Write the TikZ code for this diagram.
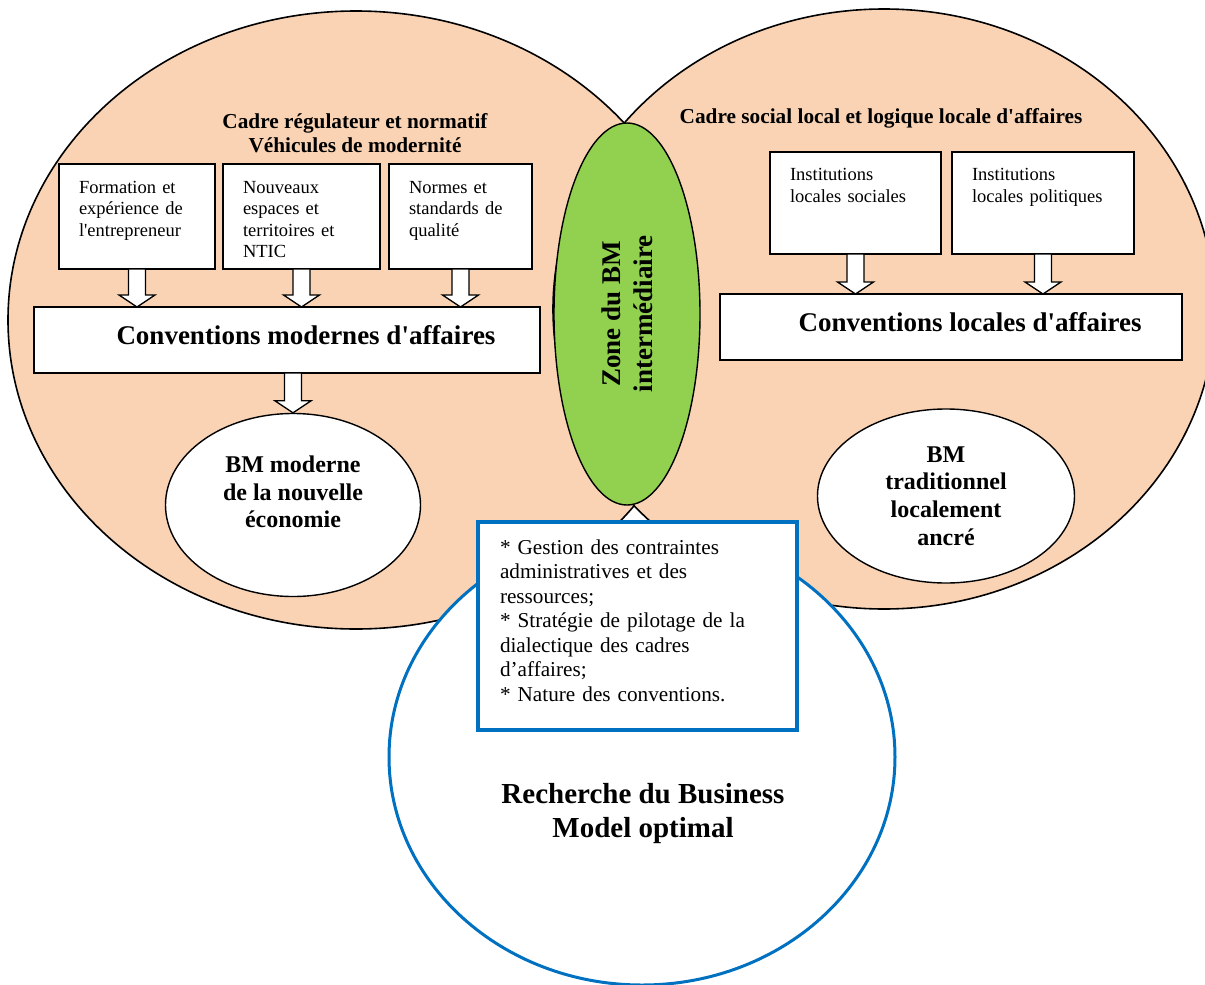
\documentclass[tikz,border=0pt]{standalone}
\usepackage{fontspec}
\setmainfont{Liberation Serif}
\usetikzlibrary{shapes.geometric, calc}
\definecolor{peach}{HTML}{F9D3B4}
\definecolor{leafgreen}{HTML}{92D050}
\definecolor{ringblue}{HTML}{0070C0}

\begin{document}
\begin{tikzpicture}[x=1pt, y=-1pt, line width=1.4pt]
		% Define styles
		\tikzstyle{field} = [draw, fill=peach, ellipse, inner sep=0pt, line width=1.6pt]
		\tikzstyle{smallbox} = [draw, fill=white, anchor=north west, align=left, inner xsep=20pt, inner ysep=0pt, outer sep=0pt, font=\fontsize{18.5}{21.5}\selectfont]
		\tikzstyle{convbox} = [draw, fill=white, anchor=north west, inner sep=0pt, outer sep=0pt, text depth=10pt, font=\bfseries\fontsize{27}{31}\selectfont]
		\tikzstyle{bmshape} = [draw, fill=white, ellipse, inner sep=0pt, align=center, font=\bfseries\fontsize{24}{27.7}\selectfont]
		\tikzstyle{heading} = [align=center, font=\bfseries\fontsize{21.3}{24.5}\selectfont]
		\tikzstyle{hollow} = [draw, fill=white, line width=1.3pt, to path={let \p1=(\tikztostart), \p2=(\tikztotarget) in ({\x1-8.5pt},\y1) -- ({\x1-8.5pt},{\y2+12pt}) -- ({\x1-18pt},{\y2+12pt}) -- (\x1,\y2) -- ({\x1+18pt},{\y2+12pt}) -- ({\x1+8.5pt},{\y2+12pt}) -- ({\x1+8.5pt},\y1) -- cycle}]

		\useasboundingbox (0,0) rectangle (1205,985);
		\clip (0,0) rectangle (1205,985);

		% The two frames
		\node [field, minimum width=696pt, minimum height=618pt] (leftframe) at (356,320) {};
		\node [field, minimum width=662pt, minimum height=600pt] (rightframe) at (884,309) {};

		% Intermediate zone
		\node [draw, fill=leafgreen, ellipse, inner sep=0pt, rotate=90, minimum width=382pt, minimum height=146pt, align=center, font=\bfseries\fontsize{27}{32}\selectfont] (zone) at (627,314) {Zone du BM\\intermédiaire};

		% Headings
		\node [heading] (leftttl) at (355,133) {Cadre régulateur et normatif\\Véhicules de modernité};
		\node [heading] (rightttl) at (881,118) {Cadre social local et logique locale d\textquotesingle affaires};

		% Modern side
		\node [smallbox, text width=116pt, text height=29pt, text depth=76pt] (training) at (59,164) {Formation et\\expérience de\\l\textquotesingle entrepreneur};
		\node [smallbox, text width=117pt, text height=29pt, text depth=76pt] (spaces) at (223,164) {Nouveaux\\espaces et\\territoires et\\NTIC};
		\node [smallbox, text width=103pt, text height=29pt, text depth=76pt] (norms) at (389,164) {Normes et\\standards de\\qualité};
		\node [convbox, minimum width=506pt, minimum height=66pt] (modernconv) at (34,307) {\hspace{38pt}Conventions modernes d\textquotesingle affaires};

		% Local side
		\node [smallbox, text width=131pt, text height=28pt, text depth=74pt, font=\fontsize{18.5}{22.5}\selectfont] (social) at (770,152) {Institutions\\locales sociales};
		\node [smallbox, text width=142pt, text height=28pt, text depth=74pt, font=\fontsize{18.5}{22.5}\selectfont] (political) at (952,152) {Institutions\\locales politiques};
		\node [convbox, minimum width=462pt, minimum height=66pt] (localconv) at (720,294) {\hspace{38pt}Conventions locales d\textquotesingle affaires};

		% Business models
		\node [bmshape, minimum width=255pt, minimum height=183pt] (modernbm) at (293,505) {};
		\node [align=center, font=\bfseries\fontsize{24}{27.7}\selectfont] (modernlbl) at (293,492) {BM moderne\\de la nouvelle\\économie};
		\node [bmshape, minimum width=257pt, minimum height=174pt] (tradbm) at (946,496) {BM\\traditionnel\\localement\\ancré};

		% Arrows
		\draw [hollow] (training.south) to (training.south |- modernconv.north);
		\draw [hollow] (spaces.south) to (spaces.south |- modernconv.north);
		\draw [hollow] (norms.south) to (norms.south |- modernconv.north);
		\draw [hollow] (modernbm.north |- modernconv.south) to (modernbm.north);
		\draw [hollow] (social.south) to (social.south |- localconv.north);
		\draw [hollow] (political.south) to (political.south |- localconv.north);

		% Optimal business model
		\node [draw=ringblue, line width=3pt, fill=white, ellipse, inner sep=0pt, minimum width=506pt, minimum height=456pt] (search) at (642,757) {};
		\node [draw=ringblue, line width=4pt, fill=white, anchor=north west, outer sep=0pt, text width=275pt, inner xsep=22pt, inner ysep=0pt, text height=32pt, text depth=176pt, align=left, font=\fontsize{21.2}{24.5}\selectfont] (levers) at (478,522) {* Gestion des contraintes\\administratives et des\\ressources;\\{*} Stratégie de pilotage de la\\dialectique des cadres\\d’affaires;\\{*} Nature des conventions.};
		\node [align=center, font=\bfseries\fontsize{29}{34}\selectfont] (searchlbl) at (643,814) {Recherche du Business\\Model optimal};

\end{tikzpicture}
\end{document}
